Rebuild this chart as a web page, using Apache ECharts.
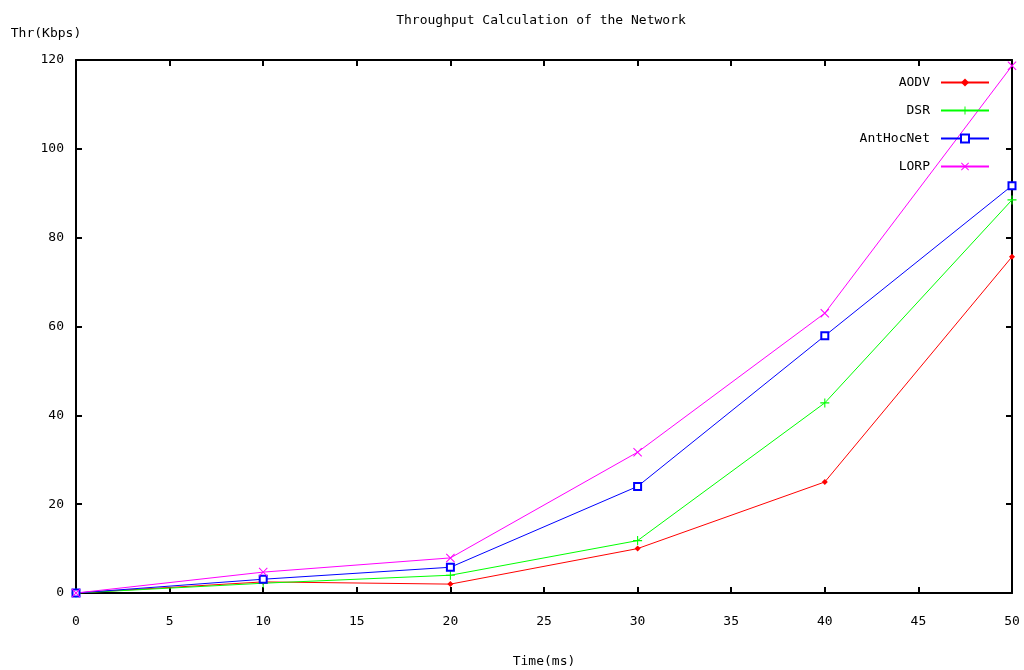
<!DOCTYPE html>
<html><head><meta charset="utf-8">
<script src="https://cdn.jsdelivr.net/npm/echarts@6/dist/echarts.min.js"></script>
<style>html,body{margin:0;padding:0;background:#fff}#c{width:1024px;height:670px}</style>
</head><body><div id="c"></div>
<script>
var xValues = [0, 10, 20, 30, 40, 50];
var aodv = [0, 2.5, 2, 10, 25, 75.7];
var dsr = [0, 2.2, 4, 11.8, 42.8, 88.5];
var antHocNet = [0, 3.1, 5.8, 24, 57.9, 91.7];
var lorp = [0, 4.7, 7.9, 31.7, 63, 118.7];
var seriesNames = ['AODV', 'DSR', 'AntHocNet', 'LORP'];
var colors = ['#ff0000', '#00ff00', '#0000ff', '#ff00ff'];

var font = 'DejaVu Sans Mono';
var fs = 13;
function pairs(arr){ return xValues.map(function(x,i){return [x, arr[i]];}); }
var plusPath = 'path://M4.4,0H5.6V4.4H10V5.6H5.6V10H4.4V5.6H0V4.4H4.4Z';
var xPath = 'path://M0.8,0L5,4.2L9.2,0L10,0.8L5.8,5L10,9.2L9.2,10L5,5.8L0.8,10L0,9.2L4.2,5L0,0.8Z';
var symbols = ['diamond', plusPath, 'emptyRect', xPath];
var symSizes = [6, 9, 7, 9];
var data = [aodv, dsr, antHocNet, lorp];

var chart = echarts.init(document.getElementById('c'));
var axisLine = {show: true, onZero: false, lineStyle: {color: '#000', width: 2}};
var tick = {show: true, inside: true, length: 6, lineStyle: {color: '#000', width: 2}};
chart.setOption({
  animation: false,
  backgroundColor: '#fff',
  title: {text: 'Throughput Calculation of the Network', left: 536, textAlign: 'center', top: 9,
    textStyle: {fontFamily: font, fontSize: fs, fontWeight: 'normal', color: '#000'}},
  grid: {left: 76, right: 12, top: 60, bottom: 77, containLabel: false, outerBoundsMode: 'none'},
  legend: {
    orient: 'vertical', right: 29, top: 71, align: 'right',
    itemWidth: 48, itemHeight: 10, itemGap: 15,
    textStyle: {fontFamily: font, fontSize: fs, color: '#000', padding: [0, 6, 0, 0]},
    data: seriesNames
  },
  xAxis: [{
    type: 'value', min: 0, max: 50, interval: 5,
    axisLine: axisLine, axisTick: tick, splitLine: {show: false},
    axisLabel: {fontFamily: font, fontSize: fs, color: '#000', margin: 22},
    name: 'Time(ms)', nameLocation: 'middle', nameGap: 62,
    nameTextStyle: {fontFamily: font, fontSize: fs, color: '#000'}
  }, {
    type: 'value', min: 0, max: 50, interval: 5, position: 'top',
    axisLine: axisLine, axisTick: tick, splitLine: {show: false}, axisLabel: {show: false}
  }],
  yAxis: [{
    type: 'value', min: 0, max: 120, interval: 20,
    axisLine: axisLine, axisTick: tick, splitLine: {show: false},
    axisLabel: {fontFamily: font, fontSize: fs, color: '#000', margin: 12},
    name: 'Thr(Kbps)', nameLocation: 'end', nameGap: 20,
    nameTextStyle: {fontFamily: font, fontSize: fs, color: '#000', align: 'center', padding: [0, 0, 0, -60]}
  }, {
    type: 'value', min: 0, max: 120, interval: 20, position: 'right',
    axisLine: axisLine, axisTick: tick, splitLine: {show: false}, axisLabel: {show: false}
  }],
  series: seriesNames.map(function(n, i){
    return {
      name: n, type: 'line', data: pairs(data[i]),
      symbol: symbols[i], symbolSize: symSizes[i], showAllSymbol: true,
      lineStyle: {color: colors[i], width: 1},
      itemStyle: {color: colors[i], borderColor: colors[i], borderWidth: i === 2 ? 1.2 : 0},
      emphasis: {disabled: true}
    };
  })
});
</script></body></html>
